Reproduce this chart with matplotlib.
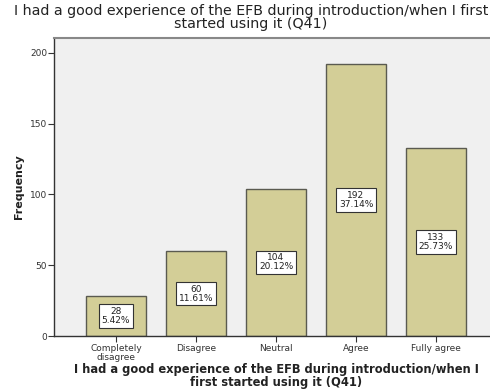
import matplotlib.pyplot as plt

categories = ['Completely\ndisagree', 'Disagree', 'Neutral', 'Agree', 'Fully agree']
counts = [28, 60, 104, 192, 133]
percents = [5.42, 11.61, 20.12, 37.14, 25.73]

question = 'I had a good experience of the EFB during introduction/when I first\nstarted using it (Q41)'
xlabel = 'I had a good experience of the EFB during introduction/when I\nfirst started using it (Q41)'

fig = plt.figure(figsize=(4.9, 3.92), dpi=100)
# axes run slightly past the right edge of the figure
ax = fig.add_axes([54 / 490, 56 / 392, 444 / 490, 298 / 392])
ax.set_facecolor('#f0f0f0')

x = range(len(categories))
ax.bar(x, counts, width=0.75, color='#d3ce97', edgecolor='#5a5a50', linewidth=1.0, zorder=2)

for i, (c, p) in enumerate(zip(counts, percents)):
    ax.text(i, c / 2, f'{c}\n{p:.2f}%', ha='center', va='center', fontsize=6.5,
            linespacing=1.0, color='#222222', zorder=3,
            bbox=dict(boxstyle='square,pad=0.3', facecolor='white', edgecolor='#333333', linewidth=0.8))

ax.set_xlim(-0.775, 4.775)
ax.set_ylim(0, 210.5)
ax.set_yticks([0, 50, 100, 150, 200])
ax.set_xticks(list(x))
ax.set_xticklabels(categories, fontsize=6.5, color='#333333', linespacing=1.0)
ax.tick_params(axis='y', labelsize=6.5, labelcolor='#333333', length=4, width=0.8, color='#333333', pad=1)
ax.tick_params(axis='x', length=4, width=0.8, color='#333333', pad=2)

for s in ['left', 'bottom']:
    ax.spines[s].set_color('#333333')
    ax.spines[s].set_linewidth(1.0)
ax.spines['top'].set_color('#888888')
ax.spines['top'].set_linewidth(1.5)
ax.spines['right'].set_visible(False)

ax.set_ylabel('Frequency', fontsize=8, fontweight='bold', color='#222222')
ax.yaxis.set_label_coords(-30 / 444, 0.5)
ax.set_xlabel(xlabel, fontsize=8.3, fontweight='bold', color='#222222', linespacing=1.0)
ax.xaxis.set_label_coords(0.5, -27 / 298)

fig.text(251 / 490, 1 - 4 / 392, question, ha='center', va='top', fontsize=10.25,
         color='#222222', linespacing=0.95)

fig.savefig('out.png', dpi=100)
